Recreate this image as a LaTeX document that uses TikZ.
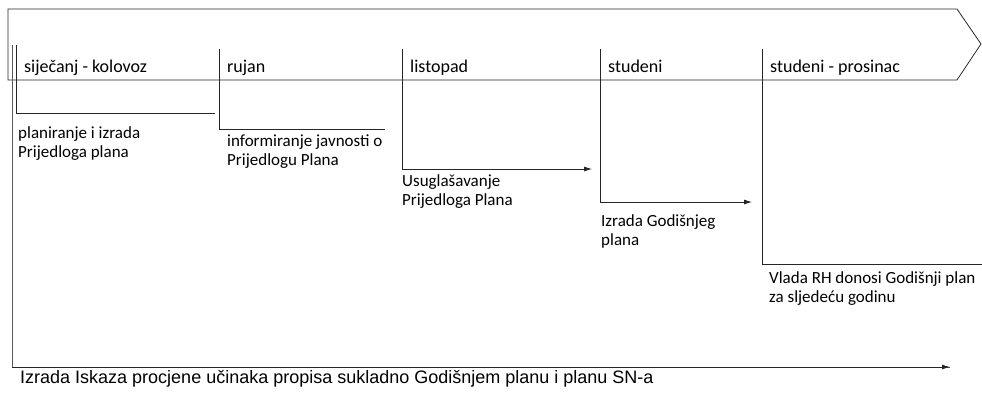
\documentclass[tikz,border=0pt]{standalone}
\usepackage{fontspec}
\setmainfont{Carlito}
\newfontfamily\arialfont{Liberation Sans}
\usetikzlibrary{arrows.meta}

\begin{document}
\begin{tikzpicture}[x=1pt,y=-1pt,
    every node/.style={inner sep=0pt,anchor=base west,align=left},
    month/.style={font=\fontsize{18}{19}\selectfont},
    task/.style={font=\fontsize{17}{19}\selectfont},
    bar/.style={draw=black!85,line width=0.8pt},
    flow/.style={bar,-{Latex[length=8pt,width=5pt]}}
    ]
    \useasboundingbox (0,0) rectangle (982,392);

    % the band on top
    \draw[bar] (8,9) -- (957,9) -- (981,44) -- (957,80) -- (8,80) -- cycle;

    % month labels
    \node[month] (m1) at (24,72) {siječanj - kolovoz};
    \node[month] (m2) at (227,72) {rujan};
    \node[month] (m3) at (410,72) {listopad};
    \node[month] (m4) at (608,72) {studeni};
    \node[month] (m5) at (770,72) {studeni - prosinac};

    % corners of the steps
    \coordinate (s0) at (12,45);  \coordinate (e0) at (950,367);
    \coordinate (s1) at (16,45);  \coordinate (e1) at (215,113);
    \coordinate (s2) at (219,49); \coordinate (e2) at (385,129);
    \coordinate (s3) at (402,49); \coordinate (e3) at (592,169);
    \coordinate (s4) at (600,49); \coordinate (e4) at (752,202);
    \coordinate (s5) at (762,49); \coordinate (e5) at (982,264);

    % the steps
    \draw[bar,draw=black!65] (s0) |- (e0);
    \draw[flow] (s0 |- e0) -- (e0);
    \draw[bar] (s1) |- (e1);
    \draw[bar] (s2) |- (e2);
    \draw[flow] (s3) |- (e3);
    \draw[flow] (s4) |- (e4);
    \draw[bar] (s5) |- (e5);

    % tasks (placed at the baseline of their last line)
    \node[task] (t1) at (18,157) {planiranje i izrada\\Prijedloga plana};
    \node[task] (t2) at (227,165) {informiranje javnosti o\\Prijedlogu Plana};
    \node[task] (t3) at (402,205) {Usuglašavanje\\Prijedloga Plana};
    \node[task] (t4) at (601,245) {Izrada Godišnjeg\\plana};
    \node[task] (t5) at (769,302) {Vlada RH donosi Godišnji plan\\za sljedeću godinu};
    \node[font=\arialfont\fontsize{18}{19}\selectfont] (t0) at (20,383)
        {Izrada Iskaza procjene učinaka propisa sukladno Godišnjem planu i planu SN-a};
\end{tikzpicture}
\end{document}
